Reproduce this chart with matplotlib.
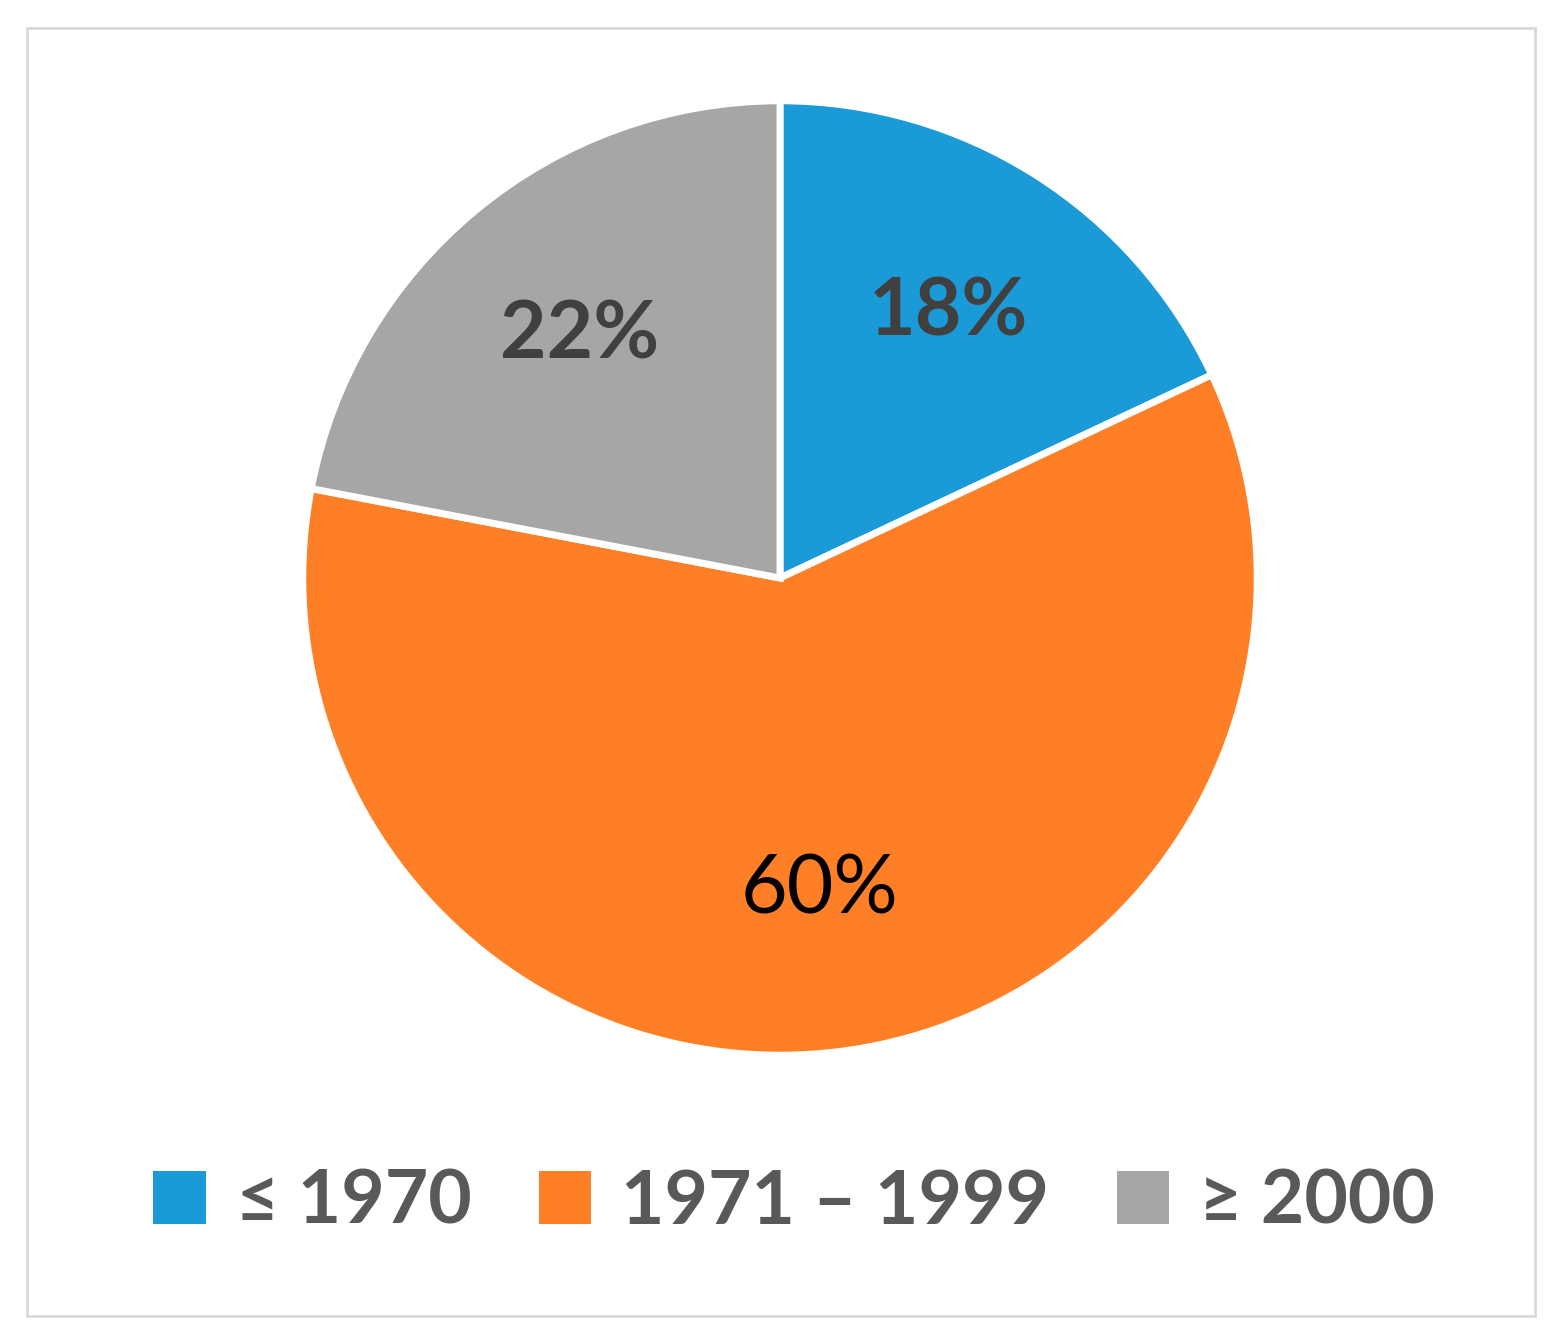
import matplotlib
matplotlib.use("Agg")
import matplotlib.pyplot as plt
from matplotlib.patches import Rectangle

plt.rcParams['font.family'] = ['Lato', 'DejaVu Sans']

labels = ["≤ 1970", "1971 – 1999", "≥ 2000"]
shares = [18, 60, 22]
colors = ["#1a9bd7", "#fe7f26", "#a6a6a6"]
pct_colors = ["#404040", "#000000", "#404040"]
pct_weights = ["bold", "normal", "bold"]

W, H = 1557, 1342
fig = plt.figure(figsize=(W / 100, H / 100), dpi=100)
fig.patches.append(Rectangle((27 / W, 1 - 1316 / H), 1508 / W, 1288 / H,
                             transform=fig.transFigure, fill=False,
                             edgecolor="#d9d9d9", lw=2))

cx, cy, r = 780, 578, 482
ax = fig.add_axes([(cx - r) / W, 1 - (cy + r) / H, 2 * r / W, 2 * r / H])
wedges, _, autotexts = ax.pie(shares, colors=colors, startangle=90, counterclock=False,
                              autopct="%d%%", pctdistance=0.66, radius=1,
                              wedgeprops=dict(edgecolor="white", linewidth=5))
for t, c, w in zip(autotexts, pct_colors, pct_weights):
    t.set_color(c)
    t.set_fontweight(w)
    t.set_fontsize(58)
ax.set_xlim(-1.01, 1.01)
ax.set_ylim(-1.01, 1.01)
ax.set_aspect("equal")
ax.axis("off")

leg = fig.legend(wedges, labels, loc="center", bbox_to_anchor=(0.51, 1 - 1202 / H),
                 ncol=3, frameon=False, handlelength=0.7, handleheight=0.7,
                 handletextpad=0.4, columnspacing=0.9,
                 prop=dict(size=54, weight="bold"))
for t in leg.get_texts():
    t.set_color("#595959")
for h in leg.legend_handles:
    h.set_edgecolor("none")

fig.savefig("out.png", dpi=100, facecolor="white")
